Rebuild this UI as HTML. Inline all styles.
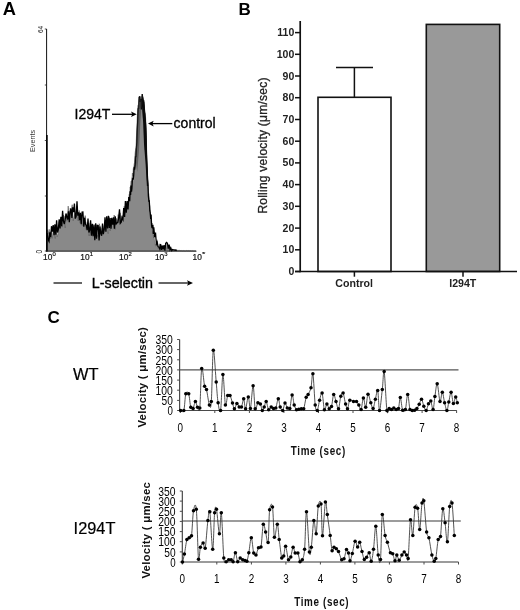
<!DOCTYPE html>
<html><head><meta charset="utf-8"><title>Figure</title>
<style>
html,body{margin:0;padding:0;background:#fff;}
body{width:520px;height:610px;overflow:hidden;font-family:"Liberation Sans",sans-serif;}
svg{display:block;filter:grayscale(1);}
</style></head><body>
<svg width="520" height="610" viewBox="0 0 520 610" font-family="Liberation Sans, sans-serif" fill="#000">
<rect width="520" height="610" fill="#fff"/>
<text x="2.8" y="15.2" font-size="17.5" font-weight="bold" textLength="13.2" lengthAdjust="spacingAndGlyphs">A</text>
<text x="238.5" y="14.8" font-size="17" font-weight="bold">B</text>
<text x="47.6" y="323.2" font-size="17" font-weight="bold">C</text>
<path d="M46.8,251.0 L46.8,237.1 L47.2,229.6 L48.2,234.1 L49.2,229.3 L50.2,239.0 L51.2,230.9 L52.2,238.4 L53.2,231.0 L54.2,229.8 L55.2,238.5 L56.2,225.0 L57.2,236.9 L58.2,233.4 L59.2,221.6 L60.2,228.5 L61.2,218.1 L62.2,227.2 L63.2,215.0 L64.2,216.1 L65.2,227.9 L66.2,213.6 L67.2,221.2 L68.2,206.1 L69.2,217.5 L70.2,208.3 L71.2,210.7 L72.2,204.7 L73.2,220.8 L74.2,216.2 L75.2,213.1 L76.2,215.2 L77.2,206.0 L78.2,221.0 L79.2,210.4 L80.2,223.2 L81.2,215.3 L82.2,225.8 L83.2,216.8 L84.2,225.5 L85.2,215.6 L86.2,229.5 L87.2,222.4 L88.2,226.5 L89.2,236.0 L90.2,222.9 L91.2,233.3 L92.2,227.6 L93.2,233.5 L94.2,229.2 L95.2,228.9 L96.2,224.9 L97.2,234.7 L98.2,237.2 L99.2,223.7 L100.2,226.4 L101.2,233.3 L102.2,227.9 L103.2,233.9 L104.2,225.6 L105.2,229.9 L106.2,223.1 L107.2,225.6 L108.2,233.7 L109.2,216.6 L110.2,230.9 L111.2,218.0 L112.2,219.9 L113.2,224.2 L114.2,215.0 L115.2,229.3 L116.2,218.3 L117.2,222.7 L118.2,214.6 L119.2,223.3 L120.2,212.8 L121.2,220.6 L122.2,215.5 L123.2,221.3 L124.2,206.3 L125.2,213.5 L126.2,205.3 L127.2,204.0 L128.2,202.6 L129.2,194.4 L129.7,195.7 L130.1,187.2 L130.6,188.6 L131.0,181.3 L131.5,180.7 L131.9,182.4 L132.4,173.0 L132.8,176.0 L133.3,168.6 L133.7,169.7 L134.2,163.9 L134.6,162.8 L135.1,153.2 L135.5,150.3 L136.0,147.2 L136.4,138.2 L136.9,125.9 L137.3,116.5 L137.8,109.1 L138.2,105.4 L138.7,107.0 L139.7,96.0 L140.7,97.7 L141.1,107.8 L142.1,96.0 L142.6,99.8 L143.6,103.3 L144.0,100.2 L144.5,108.3 L144.9,112.0 L145.4,114.1 L145.8,121.7 L146.3,135.4 L146.7,152.5 L147.2,165.9 L147.6,175.4 L148.1,183.0 L148.5,192.4 L149.0,195.2 L149.4,204.2 L149.9,206.4 L150.3,213.6 L150.8,217.4 L151.2,218.2 L151.7,227.4 L152.1,223.0 L152.6,233.4 L153.0,231.4 L153.5,237.9 L153.9,234.7 L154.9,244.9 L155.9,244.5 L156.9,239.7 L157.9,248.6 L158.9,248.0 L159.9,243.7 L160.9,248.0 L161.9,245.5 L162.9,248.7 L163.9,246.5 L164.9,247.9 L165.9,243.6 L166.9,249.2 L167.9,245.4 L168.9,249.4 L169.9,247.8 L170.9,248.4 L171.9,250.1 L172.9,250.0 L173.9,250.3 L174.9,250.4 L175.9,250.2 L176.9,250.6 L177.9,250.2 L178.9,250.5 L179.9,250.3 L180.9,250.7 L181.9,250.5 L182.9,250.8 L183.9,250.5 L184.9,250.8 L185.9,250.7 L186.9,250.4 L187.9,250.8 L188.9,250.5 L189.9,250.8 L190.9,250.6 L191.9,250.9 L192.9,250.6 L193.9,251.0 L194.9,250.8 L195.9,251.0 L196,251.0 Z" fill="#898989" stroke="#555" stroke-width="0.6" stroke-linejoin="round"/>
<path d="M46.8,237.5 L47.2,233.2 L48.1,239.5 L49.0,241.4 L49.8,232.2 L50.7,237.1 L51.5,226.2 L52.4,231.7 L53.2,225.0 L54.1,235.2 L54.9,224.3 L55.8,234.6 L56.6,220.4 L57.5,232.5 L58.3,229.6 L59.2,219.4 L60.0,228.5 L60.9,216.8 L61.7,226.3 L62.6,210.7 L63.4,221.1 L64.3,224.1 L65.1,220.1 L66.0,213.7 L66.8,217.0 L67.7,219.4 L68.5,211.4 L69.3,222.1 L70.2,211.5 L71.0,208.5 L71.9,218.0 L72.7,207.3 L73.6,212.1 L74.4,203.6 L75.3,218.6 L76.1,216.5 L77.0,201.3 L77.8,215.7 L78.7,212.2 L79.5,220.1 L80.4,212.8 L81.2,224.1 L82.1,212.1 L82.9,212.0 L83.8,226.6 L84.6,217.7 L85.5,224.2 L86.3,225.4 L87.2,230.2 L88.0,218.6 L88.9,232.4 L89.7,230.4 L90.6,220.4 L91.4,235.6 L92.3,223.9 L93.1,236.2 L94.0,224.6 L94.8,240.3 L95.7,223.2 L96.5,238.8 L97.4,225.2 L98.2,225.4 L99.1,240.4 L99.9,226.6 L100.8,233.4 L101.6,235.8 L102.5,223.5 L103.3,234.1 L104.2,229.6 L105.0,217.3 L105.9,231.7 L106.7,216.2 L107.6,228.4 L108.4,215.8 L109.3,227.9 L110.1,218.1 L111.0,228.8 L111.8,217.9 L112.7,224.7 L113.5,217.4 L114.4,228.8 L115.2,216.4 L116.1,224.0 L116.9,223.0 L117.8,222.4 L118.6,218.3 L119.5,209.2 L120.3,223.4 L121.2,222.3 L122.0,217.6 L122.9,219.5 L123.7,208.1 L124.6,216.9 L125.4,201.0 L126.3,212.6 L127.1,201.0 L128.0,209.5 L128.8,197.1 L129.7,201.2 L130.1,191.3 L130.6,194.9 L131.0,185.5 L131.5,191.6 L131.9,188.4 L132.4,179.1 L132.8,179.5 L133.3,179.0 L133.7,175.2 L134.2,166.7 L134.6,169.7 L135.1,165.7 L135.5,156.7 L136.0,156.6 L136.4,148.1 L136.9,142.4 L137.3,129.5 L137.8,119.5 L138.2,108.7 L138.7,108.5 L139.1,97.5 L139.6,96.4 L140.0,101.8 L140.9,98.9 L141.3,109.5 L142.2,94.1 L142.6,97.3 L143.5,104.4 L143.9,103.6 L144.4,110.3 L144.8,116.3 L145.3,120.2 L145.7,127.9 L146.2,143.7 L146.6,159.3 L147.1,169.1 L147.5,179.1 L148.0,186.0 L148.4,196.3 L148.9,201.1 L149.3,201.0 L149.8,210.7 L150.2,212.7 L150.7,219.0 L151.1,214.5 L151.6,225.6 L152.0,227.7 L152.5,228.0 L152.9,224.9 L153.4,234.0 L153.8,227.3 L154.7,237.1 L155.5,232.5 L156.4,244.0 L157.2,242.3 L158.1,246.7 L158.9,247.3 L159.8,249.1 L160.6,244.1 L161.5,250.0 L162.3,245.6 L163.2,249.4 L164.0,245.0 L164.9,250.6 L165.7,243.4 L166.6,242.4 L167.4,243.4 L168.3,248.6 L169.1,244.6 L170.0,249.7 L170.8,247.9 L171.7,250.6 L172.5,249.6 L173.4,249.9 L174.2,249.8 L175.1,250.2 L175.9,250.0 L176.8,250.6" fill="none" stroke="#000" stroke-width="1.3" stroke-linejoin="miter"/>
<path d="M137.6,106 L139,99.5 L140.2,96 L141.2,101 L142.6,94 L143.6,100 L146,123 L146.5,150 L144.5,150 L143.5,123 L141.5,106 L140.3,123 L139.0,150 L137.2,172 L135.4,158 L136.5,140 L137.2,123 Z" fill="#333" opacity="0.5"/>
<path d="M142.6,94 L143.7,100 L144.6,108 L146.1,123 L146.7,144 L147.3,164 L148.3,186 L146.9,186 L145.6,164 L144.0,144 L143.2,123 L142.0,106 Z" fill="#0a0a0a"/>
<line x1="46.6" y1="29" x2="46.6" y2="251.5" stroke="#111" stroke-width="1"/>
<line x1="46.9" y1="135" x2="46.9" y2="251.5" stroke="#000" stroke-width="1.6"/>
<line x1="46" y1="251.2" x2="196.5" y2="251.2" stroke="#222" stroke-width="0.9"/>
<line x1="44.8" y1="29" x2="46.6" y2="29" stroke="#222" stroke-width="0.8"/>
<line x1="44.8" y1="85" x2="46.6" y2="85" stroke="#222" stroke-width="0.8"/>
<line x1="44.8" y1="140.5" x2="46.6" y2="140.5" stroke="#222" stroke-width="0.8"/>
<line x1="44.8" y1="196" x2="46.6" y2="196" stroke="#222" stroke-width="0.8"/>
<line x1="44.8" y1="251" x2="46.6" y2="251" stroke="#222" stroke-width="0.8"/>
<text transform="translate(43,33) rotate(-90)" font-size="6.5" fill="#222">64</text>
<text transform="translate(35,152) rotate(-90)" font-size="6.5" fill="#333" textLength="22" lengthAdjust="spacingAndGlyphs">Events</text>
<text transform="translate(41.8,253.4) rotate(-90)" font-size="8.4" fill="#111" textLength="3.6" lengthAdjust="spacingAndGlyphs">0</text>
<text x="43.1" y="260.2" font-size="8.7" fill="#111" stroke="#111" stroke-width="0.2" textLength="9.3" lengthAdjust="spacingAndGlyphs">10</text>
<text x="52.5" y="256.4" font-size="4.8" fill="#111" stroke="#111" stroke-width="0.15" textLength="3.3" lengthAdjust="spacingAndGlyphs">0</text>
<text x="80.3" y="260.2" font-size="8.7" fill="#111" stroke="#111" stroke-width="0.2" textLength="9.3" lengthAdjust="spacingAndGlyphs">10</text>
<text x="89.7" y="256.4" font-size="4.8" fill="#111" stroke="#111" stroke-width="0.15" textLength="3.3" lengthAdjust="spacingAndGlyphs">1</text>
<text x="119.1" y="260.2" font-size="8.7" fill="#111" stroke="#111" stroke-width="0.2" textLength="9.3" lengthAdjust="spacingAndGlyphs">10</text>
<text x="128.5" y="256.4" font-size="4.8" fill="#111" stroke="#111" stroke-width="0.15" textLength="3.3" lengthAdjust="spacingAndGlyphs">2</text>
<text x="154.9" y="260.2" font-size="8.7" fill="#111" stroke="#111" stroke-width="0.2" textLength="9.3" lengthAdjust="spacingAndGlyphs">10</text>
<text x="164.3" y="256.4" font-size="4.8" fill="#111" stroke="#111" stroke-width="0.15" textLength="3.3" lengthAdjust="spacingAndGlyphs">3</text>
<text x="192.6" y="260.2" font-size="8.7" fill="#111" stroke="#111" stroke-width="0.2" textLength="9.3" lengthAdjust="spacingAndGlyphs">10</text>
<text x="202.0" y="256.4" font-size="4.8" fill="#111" stroke="#111" stroke-width="0.15" textLength="3.3" lengthAdjust="spacingAndGlyphs">*</text>
<text x="74.6" y="119" font-size="14" stroke="#000" stroke-width="0.3">I294T</text>
<line x1="112" y1="114.3" x2="133" y2="114.3" stroke="#000" stroke-width="1.3"/>
<path d="M136.7,114.3 L131,111.5 L132.3,114.3 L131,117.1 Z"/>
<text x="173.6" y="127.5" font-size="14" stroke="#000" stroke-width="0.3">control</text>
<line x1="151.5" y1="123.6" x2="172.3" y2="123.6" stroke="#000" stroke-width="1.3"/>
<path d="M148,123.6 L153.7,120.8 L152.4,123.6 L153.7,126.4 Z"/>
<text x="91.8" y="288" font-size="14.3" stroke="#000" stroke-width="0.35">L-selectin</text>
<line x1="53.5" y1="283" x2="82" y2="283" stroke="#000" stroke-width="1.2"/>
<line x1="158.5" y1="283" x2="189" y2="283" stroke="#000" stroke-width="1.2"/>
<path d="M193,283 L187,280.2 L188.3,283 L187,285.8 Z"/>
<rect x="318" y="97.3" width="73" height="174.2" fill="#fff" stroke="#111" stroke-width="1.6"/>
<rect x="426.3" y="24.4" width="73.4" height="247.1" fill="#999" stroke="#111" stroke-width="1.6"/>
<line x1="354.4" y1="67.5" x2="354.4" y2="97.3" stroke="#111" stroke-width="1.5"/>
<line x1="336" y1="67.5" x2="373" y2="67.5" stroke="#111" stroke-width="1.5"/>
<line x1="300.2" y1="21" x2="300.2" y2="272.3" stroke="#111" stroke-width="1.7"/>
<line x1="295" y1="271.5" x2="517" y2="271.5" stroke="#111" stroke-width="1.7"/>
<line x1="295" y1="271.5" x2="300" y2="271.5" stroke="#111" stroke-width="1.5"/>
<text x="294.3" y="275.0" font-size="10.5" font-weight="bold" text-anchor="end" fill="#222">0</text>
<line x1="295" y1="249.8" x2="300" y2="249.8" stroke="#111" stroke-width="1.5"/>
<text x="294.3" y="253.3" font-size="10.5" font-weight="bold" text-anchor="end" fill="#222">10</text>
<line x1="295" y1="228.1" x2="300" y2="228.1" stroke="#111" stroke-width="1.5"/>
<text x="294.3" y="231.6" font-size="10.5" font-weight="bold" text-anchor="end" fill="#222">20</text>
<line x1="295" y1="206.3" x2="300" y2="206.3" stroke="#111" stroke-width="1.5"/>
<text x="294.3" y="209.8" font-size="10.5" font-weight="bold" text-anchor="end" fill="#222">30</text>
<line x1="295" y1="184.6" x2="300" y2="184.6" stroke="#111" stroke-width="1.5"/>
<text x="294.3" y="188.1" font-size="10.5" font-weight="bold" text-anchor="end" fill="#222">40</text>
<line x1="295" y1="162.9" x2="300" y2="162.9" stroke="#111" stroke-width="1.5"/>
<text x="294.3" y="166.4" font-size="10.5" font-weight="bold" text-anchor="end" fill="#222">50</text>
<line x1="295" y1="141.2" x2="300" y2="141.2" stroke="#111" stroke-width="1.5"/>
<text x="294.3" y="144.7" font-size="10.5" font-weight="bold" text-anchor="end" fill="#222">60</text>
<line x1="295" y1="119.5" x2="300" y2="119.5" stroke="#111" stroke-width="1.5"/>
<text x="294.3" y="123.0" font-size="10.5" font-weight="bold" text-anchor="end" fill="#222">70</text>
<line x1="295" y1="97.7" x2="300" y2="97.7" stroke="#111" stroke-width="1.5"/>
<text x="294.3" y="101.2" font-size="10.5" font-weight="bold" text-anchor="end" fill="#222">80</text>
<line x1="295" y1="76.0" x2="300" y2="76.0" stroke="#111" stroke-width="1.5"/>
<text x="294.3" y="79.5" font-size="10.5" font-weight="bold" text-anchor="end" fill="#222">90</text>
<line x1="295" y1="54.3" x2="300" y2="54.3" stroke="#111" stroke-width="1.5"/>
<text x="294.3" y="57.8" font-size="10.5" font-weight="bold" text-anchor="end" fill="#222">100</text>
<line x1="295" y1="32.6" x2="300" y2="32.6" stroke="#111" stroke-width="1.5"/>
<text x="294.3" y="36.1" font-size="10.5" font-weight="bold" text-anchor="end" fill="#222">110</text>
<line x1="354.4" y1="271.5" x2="354.4" y2="276.7" stroke="#111" stroke-width="1.5"/>
<line x1="463" y1="271.5" x2="463" y2="276.7" stroke="#111" stroke-width="1.5"/>
<text x="354.2" y="286.9" font-size="10.6" font-weight="bold" text-anchor="middle" fill="#222">Control</text>
<text x="462.8" y="286.9" font-size="10.6" font-weight="bold" text-anchor="middle" fill="#222">I294T</text>
<text transform="translate(267.4,213.6) rotate(-90)" font-size="12" fill="#222" stroke="#222" stroke-width="0.3" textLength="136" lengthAdjust="spacing">Rolling velocity (μm/sec)</text>
<text x="73" y="380" font-size="16" textLength="25.5" lengthAdjust="spacingAndGlyphs" stroke="#000" stroke-width="0.2">WT</text>
<text transform="translate(146.3,427.6) rotate(-90) scale(1,0.9)" font-size="11.4" font-weight="bold" textLength="100.5" lengthAdjust="spacing" fill="#111">Velocity ( μm/sec)</text>
<line x1="179.6" y1="339.5" x2="179.6" y2="410.5" stroke="#4a4a4a" stroke-width="1.2"/>
<line x1="179.6" y1="410.5" x2="456.8" y2="410.5" stroke="#4a4a4a" stroke-width="1.2"/>
<line x1="179.6" y1="369.8" x2="458.5" y2="369.8" stroke="#555" stroke-width="1.25"/>
<line x1="177.1" y1="410.5" x2="179.6" y2="410.5" stroke="#4a4a4a" stroke-width="1"/><text x="172.9" y="415.2" text-anchor="end" font-size="13.5" textLength="5.4" lengthAdjust="spacingAndGlyphs">0</text><line x1="177.1" y1="400.4" x2="179.6" y2="400.4" stroke="#4a4a4a" stroke-width="1"/><text x="172.9" y="405.1" text-anchor="end" font-size="13.5" textLength="11.3" lengthAdjust="spacingAndGlyphs">50</text><line x1="177.1" y1="390.2" x2="179.6" y2="390.2" stroke="#4a4a4a" stroke-width="1"/><text x="172.9" y="394.9" text-anchor="end" font-size="13.5" textLength="17.3" lengthAdjust="spacingAndGlyphs">100</text><line x1="177.1" y1="380.1" x2="179.6" y2="380.1" stroke="#4a4a4a" stroke-width="1"/><text x="172.9" y="384.8" text-anchor="end" font-size="13.5" textLength="17.3" lengthAdjust="spacingAndGlyphs">150</text><line x1="177.1" y1="369.9" x2="179.6" y2="369.9" stroke="#4a4a4a" stroke-width="1"/><text x="172.9" y="374.6" text-anchor="end" font-size="13.5" textLength="17.3" lengthAdjust="spacingAndGlyphs">200</text><line x1="177.1" y1="359.8" x2="179.6" y2="359.8" stroke="#4a4a4a" stroke-width="1"/><text x="172.9" y="364.5" text-anchor="end" font-size="13.5" textLength="17.3" lengthAdjust="spacingAndGlyphs">250</text><line x1="177.1" y1="349.6" x2="179.6" y2="349.6" stroke="#4a4a4a" stroke-width="1"/><text x="172.9" y="354.3" text-anchor="end" font-size="13.5" textLength="17.3" lengthAdjust="spacingAndGlyphs">300</text><line x1="177.1" y1="339.5" x2="179.6" y2="339.5" stroke="#4a4a4a" stroke-width="1"/><text x="172.9" y="344.2" text-anchor="end" font-size="13.5" textLength="17.3" lengthAdjust="spacingAndGlyphs">350</text>
<line x1="180.3" y1="410.5" x2="180.3" y2="413.0" stroke="#4a4a4a" stroke-width="1"/><text x="180.3" y="432.3" text-anchor="middle" font-size="13" textLength="5.5" lengthAdjust="spacingAndGlyphs">0</text><line x1="214.8" y1="410.5" x2="214.8" y2="413.0" stroke="#4a4a4a" stroke-width="1"/><text x="214.8" y="432.3" text-anchor="middle" font-size="13" textLength="5.5" lengthAdjust="spacingAndGlyphs">1</text><line x1="249.4" y1="410.5" x2="249.4" y2="413.0" stroke="#4a4a4a" stroke-width="1"/><text x="249.4" y="432.3" text-anchor="middle" font-size="13" textLength="5.5" lengthAdjust="spacingAndGlyphs">2</text><line x1="283.9" y1="410.5" x2="283.9" y2="413.0" stroke="#4a4a4a" stroke-width="1"/><text x="283.9" y="432.3" text-anchor="middle" font-size="13" textLength="5.5" lengthAdjust="spacingAndGlyphs">3</text><line x1="318.5" y1="410.5" x2="318.5" y2="413.0" stroke="#4a4a4a" stroke-width="1"/><text x="318.5" y="432.3" text-anchor="middle" font-size="13" textLength="5.5" lengthAdjust="spacingAndGlyphs">4</text><line x1="353.0" y1="410.5" x2="353.0" y2="413.0" stroke="#4a4a4a" stroke-width="1"/><text x="353.0" y="432.3" text-anchor="middle" font-size="13" textLength="5.5" lengthAdjust="spacingAndGlyphs">5</text><line x1="387.5" y1="410.5" x2="387.5" y2="413.0" stroke="#4a4a4a" stroke-width="1"/><text x="387.5" y="432.3" text-anchor="middle" font-size="13" textLength="5.5" lengthAdjust="spacingAndGlyphs">6</text><line x1="422.1" y1="410.5" x2="422.1" y2="413.0" stroke="#4a4a4a" stroke-width="1"/><text x="422.1" y="432.3" text-anchor="middle" font-size="13" textLength="5.5" lengthAdjust="spacingAndGlyphs">7</text><line x1="456.6" y1="410.5" x2="456.6" y2="413.0" stroke="#4a4a4a" stroke-width="1"/><text x="456.6" y="432.3" text-anchor="middle" font-size="13" textLength="5.5" lengthAdjust="spacingAndGlyphs">8</text>
<path d="M180.6,410.4 C181.1,410.4 183.0,413.1 183.8,410.4 C184.7,407.6 185.0,396.6 185.8,393.8 C186.6,391.1 187.8,391.6 188.7,393.8 C189.5,396.1 190.0,404.9 190.8,407.3 C191.5,409.7 192.3,409.4 193.1,408.5 C193.8,407.5 194.6,401.7 195.4,401.5 C196.1,401.3 196.8,406.2 197.5,407.3 C198.2,408.4 199.1,414.4 199.8,407.9 C200.5,401.4 200.9,372.1 201.7,368.5 C202.5,364.8 203.8,382.6 204.6,386.2 C205.4,389.7 205.7,386.5 206.5,389.6 C207.3,392.8 208.6,403.0 209.4,405.0 C210.2,407.0 210.7,410.7 211.3,401.5 C212.0,392.4 212.5,353.5 213.3,350.2 C214.1,346.9 215.4,373.2 216.2,381.9 C217.0,390.7 217.3,397.9 218.1,402.7 C218.8,407.5 219.8,415.3 220.6,410.6 C221.4,405.9 222.1,375.5 222.9,374.6 C223.7,373.7 224.6,401.5 225.4,405.0 C226.2,408.5 226.9,397.0 227.7,395.4 C228.5,393.8 229.2,394.1 230.0,395.4 C230.8,396.7 231.8,400.8 232.5,403.1 C233.2,405.3 233.7,408.8 234.4,408.8 C235.2,408.9 236.1,403.8 236.9,403.5 C237.7,403.1 238.5,406.3 239.2,406.9 C240.0,407.5 240.8,408.3 241.5,406.9 C242.3,405.6 243.0,398.5 243.7,398.8 C244.3,399.2 244.8,409.2 245.6,408.8 C246.3,408.5 247.5,397.0 248.3,396.9 C249.1,396.9 249.6,410.3 250.4,408.5 C251.2,406.6 252.3,385.7 253.1,385.8 C253.9,385.8 254.4,406.0 255.2,408.8 C256.0,411.7 257.0,403.5 257.9,402.7 C258.8,401.9 259.6,402.8 260.4,404.0 C261.1,405.3 261.7,409.9 262.3,410.4 C262.9,410.9 263.6,408.4 264.2,406.9 C264.9,405.4 265.4,401.1 266.2,401.5 C266.9,402.0 267.8,408.9 268.7,409.8 C269.5,410.7 270.4,407.1 271.2,406.9 C272.0,406.7 272.7,408.3 273.5,408.5 C274.2,408.6 275.0,409.5 275.8,407.9 C276.6,406.3 277.5,399.0 278.3,398.8 C279.0,398.7 279.5,405.0 280.2,406.9 C280.9,408.9 281.9,411.2 282.7,410.6 C283.5,410.0 284.2,403.5 285.0,403.1 C285.8,402.6 286.5,407.0 287.3,407.9 C288.1,408.8 289.0,410.6 289.8,408.5 C290.6,406.3 291.4,395.6 292.1,395.0 C292.9,394.4 293.5,402.5 294.2,405.0 C295.0,407.5 295.8,409.1 296.5,409.8 C297.3,410.5 298.0,409.4 298.8,409.2 C299.6,409.1 300.5,408.9 301.3,408.8 C302.1,408.8 302.9,410.8 303.7,408.8 C304.5,406.9 305.4,399.7 306.2,397.3 C306.9,394.9 307.3,396.0 308.1,394.4 C308.9,392.8 310.2,391.1 311.0,387.7 C311.8,384.3 312.2,371.0 312.9,373.8 C313.6,376.7 314.5,398.9 315.2,405.0 C315.9,411.1 316.6,411.4 317.3,410.6 C318.0,409.8 318.8,403.1 319.6,400.2 C320.4,397.3 321.3,391.5 322.1,393.1 C322.9,394.7 323.6,408.0 324.4,409.8 C325.2,411.6 326.1,404.2 326.9,404.0 C327.7,403.9 328.5,408.4 329.2,408.8 C330.0,409.3 330.8,408.9 331.5,406.5 C332.3,404.1 332.9,395.3 333.7,394.4 C334.4,393.6 335.2,399.1 336.0,401.5 C336.8,403.9 337.7,409.7 338.5,408.8 C339.3,408.0 340.0,399.0 340.8,396.3 C341.5,393.7 342.3,391.8 343.1,393.1 C343.9,394.4 344.8,401.4 345.6,404.0 C346.3,406.7 346.8,409.5 347.5,408.8 C348.2,408.2 348.8,401.4 349.8,400.2 C350.8,399.0 352.4,401.3 353.5,401.5 C354.6,401.8 355.6,401.0 356.5,401.5 C357.3,402.1 358.0,403.7 358.8,405.0 C359.5,406.3 360.3,410.8 361.1,409.6 C361.8,408.5 362.6,398.5 363.4,398.1 C364.2,397.7 364.9,408.0 365.7,407.3 C366.5,406.7 367.2,394.9 368.0,394.2 C368.8,393.4 369.9,400.3 370.8,402.7 C371.6,405.1 372.3,409.0 373.1,408.5 C373.8,407.9 374.6,402.2 375.4,399.2 C376.2,396.2 377.0,388.6 377.7,390.5 C378.4,392.4 378.8,410.8 379.5,410.6 C380.3,410.4 381.5,396.0 382.3,389.5 C383.1,383.0 383.4,368.0 384.2,371.5 C384.9,375.0 386.1,404.4 386.9,410.6 C387.8,416.8 388.5,408.6 389.2,408.5 C390.0,408.3 390.8,409.7 391.5,409.6 C392.3,409.5 393.1,408.0 393.8,408.0 C394.6,408.0 395.4,409.5 396.2,409.6 C396.9,409.7 397.8,410.5 398.5,408.5 C399.2,406.5 399.6,397.3 400.3,397.6 C401.0,397.9 401.8,408.3 402.6,410.3 C403.5,412.3 404.5,412.2 405.4,409.6 C406.2,407.0 406.9,394.6 407.7,394.6 C408.5,394.6 409.2,407.0 410.0,409.6 C410.8,412.3 411.5,410.5 412.3,410.6 C413.1,410.7 413.8,410.7 414.6,410.3 C415.4,410.0 416.2,409.5 416.9,408.5 C417.7,407.5 418.5,405.8 419.2,404.3 C420.0,402.8 420.8,398.9 421.5,399.2 C422.3,399.5 423.1,404.3 423.8,406.2 C424.6,408.0 425.4,411.0 426.2,410.6 C426.9,410.2 427.7,405.4 428.5,403.8 C429.2,402.3 430.0,400.1 430.8,401.1 C431.5,402.0 432.4,410.4 433.1,409.6 C433.8,408.8 434.2,400.8 434.9,396.5 C435.6,392.2 436.4,382.9 437.2,383.8 C438.1,384.6 439.2,400.1 440.0,401.5 C440.8,403.0 441.5,392.1 442.3,392.3 C443.1,392.5 443.8,399.6 444.6,402.7 C445.4,405.7 446.2,410.7 446.9,410.6 C447.6,410.5 448.1,405.0 448.8,402.0 C449.5,399.0 450.3,392.1 451.1,392.3 C451.8,392.5 452.6,402.6 453.4,403.4 C454.2,404.2 455.0,397.0 455.7,396.9 C456.3,396.8 457.0,401.7 457.3,402.7" fill="none" stroke="#333" stroke-width="0.85"/><g fill="#000"><circle cx="180.6" cy="410.4" r="1.75"/><circle cx="183.8" cy="410.4" r="1.75"/><circle cx="185.8" cy="393.8" r="1.75"/><circle cx="188.7" cy="393.8" r="1.75"/><circle cx="190.8" cy="407.3" r="1.75"/><circle cx="193.1" cy="408.5" r="1.75"/><circle cx="195.4" cy="401.5" r="1.75"/><circle cx="197.5" cy="407.3" r="1.75"/><circle cx="199.8" cy="407.9" r="1.75"/><circle cx="201.7" cy="368.5" r="1.75"/><circle cx="204.6" cy="386.2" r="1.75"/><circle cx="206.5" cy="389.6" r="1.75"/><circle cx="209.4" cy="405.0" r="1.75"/><circle cx="211.3" cy="401.5" r="1.75"/><circle cx="213.3" cy="350.2" r="1.75"/><circle cx="216.2" cy="381.9" r="1.75"/><circle cx="218.1" cy="402.7" r="1.75"/><circle cx="220.6" cy="410.6" r="1.75"/><circle cx="222.9" cy="374.6" r="1.75"/><circle cx="225.4" cy="405.0" r="1.75"/><circle cx="227.7" cy="395.4" r="1.75"/><circle cx="230.0" cy="395.4" r="1.75"/><circle cx="232.5" cy="403.1" r="1.75"/><circle cx="234.4" cy="408.8" r="1.75"/><circle cx="236.9" cy="403.5" r="1.75"/><circle cx="239.2" cy="406.9" r="1.75"/><circle cx="241.5" cy="406.9" r="1.75"/><circle cx="243.7" cy="398.8" r="1.75"/><circle cx="245.6" cy="408.8" r="1.75"/><circle cx="248.3" cy="396.9" r="1.75"/><circle cx="250.4" cy="408.5" r="1.75"/><circle cx="253.1" cy="385.8" r="1.75"/><circle cx="255.2" cy="408.8" r="1.75"/><circle cx="257.9" cy="402.7" r="1.75"/><circle cx="260.4" cy="404.0" r="1.75"/><circle cx="262.3" cy="410.4" r="1.75"/><circle cx="264.2" cy="406.9" r="1.75"/><circle cx="266.2" cy="401.5" r="1.75"/><circle cx="268.7" cy="409.8" r="1.75"/><circle cx="271.2" cy="406.9" r="1.75"/><circle cx="273.5" cy="408.5" r="1.75"/><circle cx="275.8" cy="407.9" r="1.75"/><circle cx="278.3" cy="398.8" r="1.75"/><circle cx="280.2" cy="406.9" r="1.75"/><circle cx="282.7" cy="410.6" r="1.75"/><circle cx="285.0" cy="403.1" r="1.75"/><circle cx="287.3" cy="407.9" r="1.75"/><circle cx="289.8" cy="408.5" r="1.75"/><circle cx="292.1" cy="395.0" r="1.75"/><circle cx="294.2" cy="405.0" r="1.75"/><circle cx="296.5" cy="409.8" r="1.75"/><circle cx="298.8" cy="409.2" r="1.75"/><circle cx="301.3" cy="408.8" r="1.75"/><circle cx="303.7" cy="408.8" r="1.75"/><circle cx="306.2" cy="397.3" r="1.75"/><circle cx="308.1" cy="394.4" r="1.75"/><circle cx="311.0" cy="387.7" r="1.75"/><circle cx="312.9" cy="373.8" r="1.75"/><circle cx="315.2" cy="405.0" r="1.75"/><circle cx="317.3" cy="410.6" r="1.75"/><circle cx="319.6" cy="400.2" r="1.75"/><circle cx="322.1" cy="393.1" r="1.75"/><circle cx="324.4" cy="409.8" r="1.75"/><circle cx="326.9" cy="404.0" r="1.75"/><circle cx="329.2" cy="408.8" r="1.75"/><circle cx="331.5" cy="406.5" r="1.75"/><circle cx="333.7" cy="394.4" r="1.75"/><circle cx="336.0" cy="401.5" r="1.75"/><circle cx="338.5" cy="408.8" r="1.75"/><circle cx="340.8" cy="396.3" r="1.75"/><circle cx="343.1" cy="393.1" r="1.75"/><circle cx="345.6" cy="404.0" r="1.75"/><circle cx="347.5" cy="408.8" r="1.75"/><circle cx="349.8" cy="400.2" r="1.75"/><circle cx="353.5" cy="401.5" r="1.75"/><circle cx="356.5" cy="401.5" r="1.75"/><circle cx="358.8" cy="405.0" r="1.75"/><circle cx="361.1" cy="409.6" r="1.75"/><circle cx="363.4" cy="398.1" r="1.75"/><circle cx="365.7" cy="407.3" r="1.75"/><circle cx="368.0" cy="394.2" r="1.75"/><circle cx="370.8" cy="402.7" r="1.75"/><circle cx="373.1" cy="408.5" r="1.75"/><circle cx="375.4" cy="399.2" r="1.75"/><circle cx="377.7" cy="390.5" r="1.75"/><circle cx="379.5" cy="410.6" r="1.75"/><circle cx="382.3" cy="389.5" r="1.75"/><circle cx="384.2" cy="371.5" r="1.75"/><circle cx="386.9" cy="410.6" r="1.75"/><circle cx="389.2" cy="408.5" r="1.75"/><circle cx="391.5" cy="409.6" r="1.75"/><circle cx="393.8" cy="408.0" r="1.75"/><circle cx="396.2" cy="409.6" r="1.75"/><circle cx="398.5" cy="408.5" r="1.75"/><circle cx="400.3" cy="397.6" r="1.75"/><circle cx="402.6" cy="410.3" r="1.75"/><circle cx="405.4" cy="409.6" r="1.75"/><circle cx="407.7" cy="394.6" r="1.75"/><circle cx="410.0" cy="409.6" r="1.75"/><circle cx="412.3" cy="410.6" r="1.75"/><circle cx="414.6" cy="410.3" r="1.75"/><circle cx="416.9" cy="408.5" r="1.75"/><circle cx="419.2" cy="404.3" r="1.75"/><circle cx="421.5" cy="399.2" r="1.75"/><circle cx="423.8" cy="406.2" r="1.75"/><circle cx="426.2" cy="410.6" r="1.75"/><circle cx="428.5" cy="403.8" r="1.75"/><circle cx="430.8" cy="401.1" r="1.75"/><circle cx="433.1" cy="409.6" r="1.75"/><circle cx="434.9" cy="396.5" r="1.75"/><circle cx="437.2" cy="383.8" r="1.75"/><circle cx="440.0" cy="401.5" r="1.75"/><circle cx="442.3" cy="392.3" r="1.75"/><circle cx="444.6" cy="402.7" r="1.75"/><circle cx="446.9" cy="410.6" r="1.75"/><circle cx="448.8" cy="402.0" r="1.75"/><circle cx="451.1" cy="392.3" r="1.75"/><circle cx="453.4" cy="403.4" r="1.75"/><circle cx="455.7" cy="396.9" r="1.75"/><circle cx="457.3" cy="402.7" r="1.75"/></g>
<text transform="translate(290.8,455.4) scale(0.77,1)" font-size="12.8" font-weight="bold" letter-spacing="0.85" fill="#111">Time (sec)</text>
<text x="73.6" y="533.6" font-size="16" textLength="41.8" lengthAdjust="spacingAndGlyphs" stroke="#000" stroke-width="0.2">I294T</text>
<clipPath id="cp"><rect x="130" y="482" width="30" height="110"/></clipPath>
<g clip-path="url(#cp)"><text transform="translate(149.6,578.6) rotate(-90) scale(1,0.9)" font-size="11.4" font-weight="bold" textLength="100.5" lengthAdjust="spacing" fill="#111">Velocity ( μm/sec)</text></g>
<line x1="182.3" y1="491" x2="182.3" y2="562" stroke="#383838" stroke-width="1.1"/>
<line x1="182.3" y1="562" x2="458.5" y2="562" stroke="#383838" stroke-width="1.1"/>
<line x1="182.3" y1="521" x2="460.8" y2="521" stroke="#3a3a3a" stroke-width="1.1"/>
<line x1="179.8" y1="562.0" x2="182.3" y2="562.0" stroke="#4a4a4a" stroke-width="1"/><text x="175.6" y="566.7" text-anchor="end" font-size="13.5" textLength="5.4" lengthAdjust="spacingAndGlyphs">0</text><line x1="179.8" y1="551.9" x2="182.3" y2="551.9" stroke="#4a4a4a" stroke-width="1"/><text x="175.6" y="556.6" text-anchor="end" font-size="13.5" textLength="11.3" lengthAdjust="spacingAndGlyphs">50</text><line x1="179.8" y1="541.7" x2="182.3" y2="541.7" stroke="#4a4a4a" stroke-width="1"/><text x="175.6" y="546.4" text-anchor="end" font-size="13.5" textLength="17.3" lengthAdjust="spacingAndGlyphs">100</text><line x1="179.8" y1="531.6" x2="182.3" y2="531.6" stroke="#4a4a4a" stroke-width="1"/><text x="175.6" y="536.3" text-anchor="end" font-size="13.5" textLength="17.3" lengthAdjust="spacingAndGlyphs">150</text><line x1="179.8" y1="521.4" x2="182.3" y2="521.4" stroke="#4a4a4a" stroke-width="1"/><text x="175.6" y="526.1" text-anchor="end" font-size="13.5" textLength="17.3" lengthAdjust="spacingAndGlyphs">200</text><line x1="179.8" y1="511.3" x2="182.3" y2="511.3" stroke="#4a4a4a" stroke-width="1"/><text x="175.6" y="516.0" text-anchor="end" font-size="13.5" textLength="17.3" lengthAdjust="spacingAndGlyphs">250</text><line x1="179.8" y1="501.1" x2="182.3" y2="501.1" stroke="#4a4a4a" stroke-width="1"/><text x="175.6" y="505.8" text-anchor="end" font-size="13.5" textLength="17.3" lengthAdjust="spacingAndGlyphs">300</text><line x1="179.8" y1="491.0" x2="182.3" y2="491.0" stroke="#4a4a4a" stroke-width="1"/><text x="175.6" y="495.7" text-anchor="end" font-size="13.5" textLength="17.3" lengthAdjust="spacingAndGlyphs">350</text>
<line x1="182.3" y1="562.0" x2="182.3" y2="564.5" stroke="#4a4a4a" stroke-width="1"/><text x="182.3" y="583.3" text-anchor="middle" font-size="13" textLength="5.5" lengthAdjust="spacingAndGlyphs">0</text><line x1="216.8" y1="562.0" x2="216.8" y2="564.5" stroke="#4a4a4a" stroke-width="1"/><text x="216.8" y="583.3" text-anchor="middle" font-size="13" textLength="5.5" lengthAdjust="spacingAndGlyphs">1</text><line x1="251.4" y1="562.0" x2="251.4" y2="564.5" stroke="#4a4a4a" stroke-width="1"/><text x="251.4" y="583.3" text-anchor="middle" font-size="13" textLength="5.5" lengthAdjust="spacingAndGlyphs">2</text><line x1="285.9" y1="562.0" x2="285.9" y2="564.5" stroke="#4a4a4a" stroke-width="1"/><text x="285.9" y="583.3" text-anchor="middle" font-size="13" textLength="5.5" lengthAdjust="spacingAndGlyphs">3</text><line x1="320.4" y1="562.0" x2="320.4" y2="564.5" stroke="#4a4a4a" stroke-width="1"/><text x="320.4" y="583.3" text-anchor="middle" font-size="13" textLength="5.5" lengthAdjust="spacingAndGlyphs">4</text><line x1="354.9" y1="562.0" x2="354.9" y2="564.5" stroke="#4a4a4a" stroke-width="1"/><text x="354.9" y="583.3" text-anchor="middle" font-size="13" textLength="5.5" lengthAdjust="spacingAndGlyphs">5</text><line x1="389.4" y1="562.0" x2="389.4" y2="564.5" stroke="#4a4a4a" stroke-width="1"/><text x="389.4" y="583.3" text-anchor="middle" font-size="13" textLength="5.5" lengthAdjust="spacingAndGlyphs">6</text><line x1="424.0" y1="562.0" x2="424.0" y2="564.5" stroke="#4a4a4a" stroke-width="1"/><text x="424.0" y="583.3" text-anchor="middle" font-size="13" textLength="5.5" lengthAdjust="spacingAndGlyphs">7</text><line x1="458.5" y1="562.0" x2="458.5" y2="564.5" stroke="#4a4a4a" stroke-width="1"/><text x="458.5" y="583.3" text-anchor="middle" font-size="13" textLength="5.5" lengthAdjust="spacingAndGlyphs">8</text>
<path d="M182.5,562.1 C182.8,560.8 183.7,557.8 184.4,554.0 C185.2,550.3 186.1,542.3 186.9,539.6 C187.7,536.9 188.5,538.3 189.2,537.7 C190.0,537.1 190.8,540.3 191.5,535.8 C192.2,531.3 192.7,515.2 193.5,510.8 C194.3,506.3 195.5,501.2 196.3,509.2 C197.2,517.3 197.8,552.9 198.5,559.2 C199.1,565.6 199.6,550.0 200.4,547.3 C201.2,544.6 202.3,542.9 203.1,543.1 C203.9,543.2 204.4,552.1 205.2,548.3 C206.0,544.5 207.1,526.5 207.9,520.4 C208.7,514.3 209.0,506.9 209.8,511.7 C210.6,516.5 211.9,549.1 212.7,549.2 C213.5,549.4 214.0,519.4 214.6,512.7 C215.3,506.0 215.7,505.7 216.5,509.2 C217.3,512.8 218.6,533.3 219.4,533.8 C220.2,534.4 220.6,508.7 221.3,512.7 C222.1,516.7 223.0,549.7 223.8,557.9 C224.6,566.1 225.4,561.4 226.2,561.7 C227.0,562.1 227.8,560.1 228.7,559.8 C229.5,559.5 230.4,559.5 231.2,559.8 C231.9,560.1 232.4,562.9 233.1,561.7 C233.8,560.5 234.6,552.7 235.4,552.7 C236.2,552.7 236.9,560.9 237.7,561.7 C238.5,562.6 239.4,558.2 240.2,557.9 C241.0,557.6 241.9,559.4 242.7,559.8 C243.5,560.2 244.3,560.2 245.0,560.4 C245.7,560.6 246.3,562.4 246.9,561.2 C247.6,559.9 248.1,556.6 248.8,552.7 C249.6,548.8 250.5,537.6 251.3,537.7 C252.1,537.8 252.9,550.2 253.7,553.1 C254.4,556.0 255.2,555.9 256.0,555.0 C256.8,554.1 257.6,549.0 258.5,547.7 C259.3,546.3 260.2,550.8 261.0,546.9 C261.8,543.0 262.5,526.7 263.3,524.2 C264.0,521.7 264.8,528.9 265.6,531.9 C266.4,535.0 267.4,546.2 268.1,542.5 C268.8,538.8 268.9,515.7 269.6,509.8 C270.4,503.9 271.7,502.3 272.5,506.9 C273.3,511.5 273.6,534.4 274.4,537.3 C275.2,540.2 276.5,523.8 277.3,524.2 C278.1,524.6 278.5,534.0 279.2,539.6 C280.0,545.2 281.0,555.2 281.7,557.9 C282.5,560.6 283.0,557.9 283.7,556.0 C284.3,554.0 284.8,545.7 285.6,546.3 C286.4,547.0 287.6,558.0 288.5,559.8 C289.3,561.6 290.0,559.0 290.8,556.9 C291.5,554.8 292.3,547.9 293.1,547.3 C293.8,546.7 294.4,552.1 295.2,553.1 C296.0,554.0 297.1,551.6 297.9,553.1 C298.7,554.5 299.3,560.6 300.0,561.7 C300.7,562.9 301.5,561.9 302.3,559.8 C303.1,557.7 303.9,557.2 304.6,549.2 C305.3,541.2 305.7,511.2 306.5,511.7 C307.3,512.2 308.6,546.2 309.4,552.1 C310.2,558.0 310.6,552.6 311.3,547.3 C312.1,542.0 313.0,522.6 313.8,520.4 C314.6,518.1 315.4,536.2 316.2,533.8 C316.9,531.4 317.5,510.9 318.3,506.0 C319.1,501.0 320.3,499.1 321.0,504.0 C321.7,509.0 321.8,536.1 322.5,535.8 C323.2,535.4 324.6,505.6 325.4,502.1 C326.2,498.6 326.5,509.1 327.3,514.6 C328.1,520.2 329.4,529.4 330.2,535.4 C331.0,541.4 331.5,548.8 332.1,550.8 C332.8,552.8 333.3,547.6 334.0,547.3 C334.7,547.0 335.6,548.1 336.3,548.8 C337.1,549.6 337.6,549.7 338.5,551.5 C339.4,553.4 340.8,558.6 341.7,559.8 C342.7,561.0 343.2,560.5 344.0,558.8 C344.8,557.1 345.8,550.6 346.5,549.6 C347.3,548.7 347.9,551.2 348.5,553.1 C349.0,554.9 349.4,560.7 350.0,560.8 C350.6,560.8 351.5,556.7 352.3,553.4 C353.2,550.1 354.2,542.2 355.1,541.2 C356.0,540.1 356.8,546.7 357.6,546.9 C358.4,547.1 359.0,541.5 359.7,542.3 C360.4,543.1 361.2,548.7 362.0,551.5 C362.8,554.4 363.5,558.7 364.3,559.6 C365.1,560.6 365.8,558.5 366.6,557.3 C367.4,556.2 368.4,552.0 369.2,552.7 C369.9,553.3 370.5,561.8 371.2,561.2 C372.0,560.7 372.8,555.1 373.5,549.2 C374.3,543.4 375.1,525.2 375.8,526.2 C376.6,527.1 377.4,549.4 378.2,555.0 C378.9,560.6 379.8,566.3 380.5,559.6 C381.2,552.9 381.5,518.7 382.3,514.6 C383.1,510.6 384.2,530.8 385.1,535.4 C385.9,540.0 386.5,539.4 387.4,542.3 C388.3,545.2 389.5,550.8 390.4,552.7 C391.3,554.6 391.9,552.5 392.7,553.8 C393.5,555.2 394.3,560.6 395.0,560.8 C395.7,561.0 396.2,555.1 396.8,555.0 C397.5,554.9 398.3,560.3 399.2,560.3 C400.0,560.3 401.1,556.4 401.9,555.0 C402.8,553.6 403.5,552.0 404.2,552.0 C405.0,552.0 405.9,553.9 406.5,555.0 C407.2,556.1 407.5,564.3 408.2,558.5 C408.8,552.6 409.7,523.5 410.5,519.7 C411.2,515.8 412.0,537.5 412.8,535.4 C413.5,533.3 414.3,511.8 415.1,507.2 C415.9,502.7 416.8,504.4 417.6,508.2 C418.4,511.9 419.0,530.5 419.7,529.6 C420.4,528.8 421.3,507.9 422.0,503.1 C422.7,498.3 423.1,496.0 423.8,500.8 C424.6,505.6 425.8,525.8 426.6,531.9 C427.5,538.1 428.0,533.8 428.9,537.7 C429.8,541.5 431.0,551.1 431.9,555.0 C432.8,558.9 433.6,560.7 434.2,561.2 C434.9,561.8 435.2,562.1 435.8,558.5 C436.5,554.8 437.4,543.2 438.2,539.5 C438.9,535.9 439.7,541.7 440.5,536.5 C441.2,531.4 442.0,511.2 442.8,508.8 C443.5,506.5 444.3,517.2 445.1,522.7 C445.8,528.2 446.6,544.5 447.4,541.8 C448.2,539.2 448.9,513.0 449.7,506.5 C450.5,500.1 451.2,498.3 452.0,503.1 C452.8,507.9 453.9,530.0 454.3,535.4" fill="none" stroke="#333" stroke-width="0.85"/><g fill="#000"><circle cx="182.5" cy="562.1" r="1.75"/><circle cx="184.4" cy="554.0" r="1.75"/><circle cx="186.9" cy="539.6" r="1.75"/><circle cx="189.2" cy="537.7" r="1.75"/><circle cx="191.5" cy="535.8" r="1.75"/><circle cx="193.5" cy="510.8" r="1.75"/><circle cx="196.3" cy="509.2" r="1.75"/><circle cx="198.5" cy="559.2" r="1.75"/><circle cx="200.4" cy="547.3" r="1.75"/><circle cx="203.1" cy="543.1" r="1.75"/><circle cx="205.2" cy="548.3" r="1.75"/><circle cx="207.9" cy="520.4" r="1.75"/><circle cx="209.8" cy="511.7" r="1.75"/><circle cx="212.7" cy="549.2" r="1.75"/><circle cx="214.6" cy="512.7" r="1.75"/><circle cx="216.5" cy="509.2" r="1.75"/><circle cx="219.4" cy="533.8" r="1.75"/><circle cx="221.3" cy="512.7" r="1.75"/><circle cx="223.8" cy="557.9" r="1.75"/><circle cx="226.2" cy="561.7" r="1.75"/><circle cx="228.7" cy="559.8" r="1.75"/><circle cx="231.2" cy="559.8" r="1.75"/><circle cx="233.1" cy="561.7" r="1.75"/><circle cx="235.4" cy="552.7" r="1.75"/><circle cx="237.7" cy="561.7" r="1.75"/><circle cx="240.2" cy="557.9" r="1.75"/><circle cx="242.7" cy="559.8" r="1.75"/><circle cx="245.0" cy="560.4" r="1.75"/><circle cx="246.9" cy="561.2" r="1.75"/><circle cx="248.8" cy="552.7" r="1.75"/><circle cx="251.3" cy="537.7" r="1.75"/><circle cx="253.7" cy="553.1" r="1.75"/><circle cx="256.0" cy="555.0" r="1.75"/><circle cx="258.5" cy="547.7" r="1.75"/><circle cx="261.0" cy="546.9" r="1.75"/><circle cx="263.3" cy="524.2" r="1.75"/><circle cx="265.6" cy="531.9" r="1.75"/><circle cx="268.1" cy="542.5" r="1.75"/><circle cx="269.6" cy="509.8" r="1.75"/><circle cx="272.5" cy="506.9" r="1.75"/><circle cx="274.4" cy="537.3" r="1.75"/><circle cx="277.3" cy="524.2" r="1.75"/><circle cx="279.2" cy="539.6" r="1.75"/><circle cx="281.7" cy="557.9" r="1.75"/><circle cx="283.7" cy="556.0" r="1.75"/><circle cx="285.6" cy="546.3" r="1.75"/><circle cx="288.5" cy="559.8" r="1.75"/><circle cx="290.8" cy="556.9" r="1.75"/><circle cx="293.1" cy="547.3" r="1.75"/><circle cx="295.2" cy="553.1" r="1.75"/><circle cx="297.9" cy="553.1" r="1.75"/><circle cx="300.0" cy="561.7" r="1.75"/><circle cx="302.3" cy="559.8" r="1.75"/><circle cx="304.6" cy="549.2" r="1.75"/><circle cx="306.5" cy="511.7" r="1.75"/><circle cx="309.4" cy="552.1" r="1.75"/><circle cx="311.3" cy="547.3" r="1.75"/><circle cx="313.8" cy="520.4" r="1.75"/><circle cx="316.2" cy="533.8" r="1.75"/><circle cx="318.3" cy="506.0" r="1.75"/><circle cx="321.0" cy="504.0" r="1.75"/><circle cx="322.5" cy="535.8" r="1.75"/><circle cx="325.4" cy="502.1" r="1.75"/><circle cx="327.3" cy="514.6" r="1.75"/><circle cx="330.2" cy="535.4" r="1.75"/><circle cx="332.1" cy="550.8" r="1.75"/><circle cx="334.0" cy="547.3" r="1.75"/><circle cx="336.3" cy="548.8" r="1.75"/><circle cx="338.5" cy="551.5" r="1.75"/><circle cx="341.7" cy="559.8" r="1.75"/><circle cx="344.0" cy="558.8" r="1.75"/><circle cx="346.5" cy="549.6" r="1.75"/><circle cx="348.5" cy="553.1" r="1.75"/><circle cx="350.0" cy="560.8" r="1.75"/><circle cx="352.3" cy="553.4" r="1.75"/><circle cx="355.1" cy="541.2" r="1.75"/><circle cx="357.6" cy="546.9" r="1.75"/><circle cx="359.7" cy="542.3" r="1.75"/><circle cx="362.0" cy="551.5" r="1.75"/><circle cx="364.3" cy="559.6" r="1.75"/><circle cx="366.6" cy="557.3" r="1.75"/><circle cx="369.2" cy="552.7" r="1.75"/><circle cx="371.2" cy="561.2" r="1.75"/><circle cx="373.5" cy="549.2" r="1.75"/><circle cx="375.8" cy="526.2" r="1.75"/><circle cx="378.2" cy="555.0" r="1.75"/><circle cx="380.5" cy="559.6" r="1.75"/><circle cx="382.3" cy="514.6" r="1.75"/><circle cx="385.1" cy="535.4" r="1.75"/><circle cx="387.4" cy="542.3" r="1.75"/><circle cx="390.4" cy="552.7" r="1.75"/><circle cx="392.7" cy="553.8" r="1.75"/><circle cx="395.0" cy="560.8" r="1.75"/><circle cx="396.8" cy="555.0" r="1.75"/><circle cx="399.2" cy="560.3" r="1.75"/><circle cx="401.9" cy="555.0" r="1.75"/><circle cx="404.2" cy="552.0" r="1.75"/><circle cx="406.5" cy="555.0" r="1.75"/><circle cx="408.2" cy="558.5" r="1.75"/><circle cx="410.5" cy="519.7" r="1.75"/><circle cx="412.8" cy="535.4" r="1.75"/><circle cx="415.1" cy="507.2" r="1.75"/><circle cx="417.6" cy="508.2" r="1.75"/><circle cx="419.7" cy="529.6" r="1.75"/><circle cx="422.0" cy="503.1" r="1.75"/><circle cx="423.8" cy="500.8" r="1.75"/><circle cx="426.6" cy="531.9" r="1.75"/><circle cx="428.9" cy="537.7" r="1.75"/><circle cx="431.9" cy="555.0" r="1.75"/><circle cx="434.2" cy="561.2" r="1.75"/><circle cx="435.8" cy="558.5" r="1.75"/><circle cx="438.2" cy="539.5" r="1.75"/><circle cx="440.5" cy="536.5" r="1.75"/><circle cx="442.8" cy="508.8" r="1.75"/><circle cx="445.1" cy="522.7" r="1.75"/><circle cx="447.4" cy="541.8" r="1.75"/><circle cx="449.7" cy="506.5" r="1.75"/><circle cx="452.0" cy="503.1" r="1.75"/><circle cx="454.3" cy="535.4" r="1.75"/></g>
<text transform="translate(294.2,606.3) scale(0.77,1)" font-size="12.8" font-weight="bold" letter-spacing="0.85" fill="#111">Time (sec)</text>
</svg>
</body></html>
